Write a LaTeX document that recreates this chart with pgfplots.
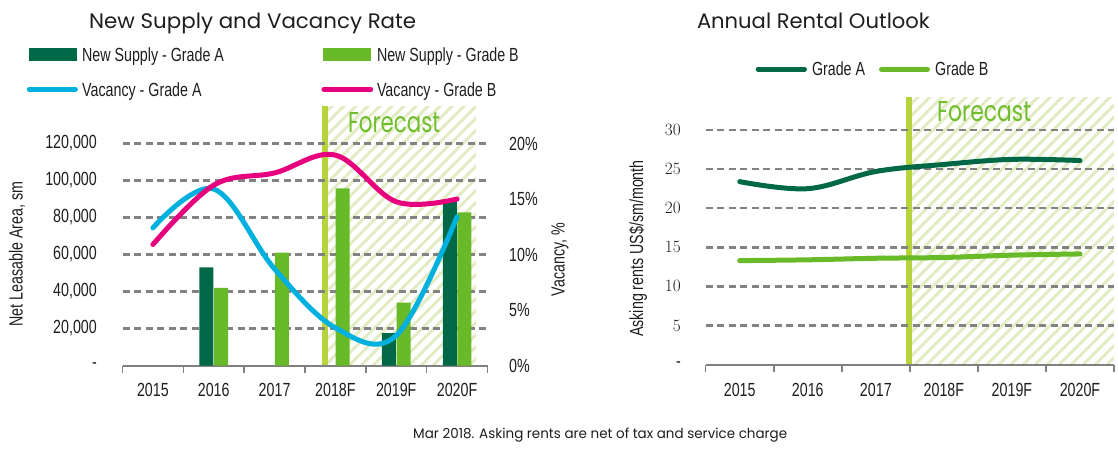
\documentclass[border=0pt]{standalone}
\usepackage{fontspec}
\usepackage{pgfplots}
\pgfplotsset{compat=1.18}
\usetikzlibrary{patterns.meta}
\newfontfamily\tickfont[FakeStretch=0.75]{Liberation Sans}
\newfontfamily\gothic{Poppins}
\newcommand{\tf}{\tickfont\fontsize{19}{22}\selectfont}
\definecolor{dkgreen}{RGB}{0,104,71}
\definecolor{ltgreen}{RGB}{104,186,40}
\definecolor{vacA}{RGB}{0,176,222}
\definecolor{vacB}{RGB}{230,0,126}
\definecolor{limebar}{RGB}{183,211,62}
\definecolor{hatch}{RGB}{226,236,196}
\definecolor{fctext}{RGB}{112,190,45}
\definecolor{gridgray}{RGB}{130,130,130}
\definecolor{axisgray}{RGB}{128,128,128}
\definecolor{txt}{RGB}{30,30,30}
\pgfplotsset{
  geom/.style={scale only axis, anchor=south west, xmin=-0.5, xmax=5.5, ymin=0},
  common/.style={
    geom,
    scaled y ticks=false,
    axis x line*=bottom, axis y line*=left,
    y axis line style={draw=none},
    x axis line style={-, draw=axisgray, line width=2pt},
    xtick={0,1,2,3,4,5}, xticklabels={2015,2016,2017,2018F,2019F,2020F},
    minor xtick={-0.5,0.5,1.5,2.5,3.5,4.5,5.5},
    tick align=outside, major tick length=0pt, minor tick length=7pt,
    minor x tick style={draw=axisgray, line width=1.5pt},
    ytick style={draw=none}, xtick style={draw=none},
    ymajorgrids,
    major grid style={dash pattern=on 7pt off 4.5pt, line width=2.5pt, color=gridgray},
    extra y tick style={grid=none},
    tick label style={font=\tf, text=txt},
    xticklabel style={inner sep=0pt, anchor=north, yshift=-18pt},
    yticklabel style={inner sep=0pt, anchor=east},
    clip=false,
  }
}
\begin{document}
\begin{tikzpicture}
\path[use as bounding box] (0,0) rectangle (1118pt,450pt);
% ---------------- Left chart ----------------
\begin{axis}[geom, hide axis, at={(122.5pt,84.5pt)}, width=365pt, height=259pt, ymax=140000]
\addplot[draw=none, pattern={Lines[angle=45,distance=8.5pt,line width=3pt]}, pattern color=hatch] coordinates {(2.877,140000) (5.31,140000)} \closedcycle;
\addplot[draw=none, fill=limebar] coordinates {(2.778,140000) (2.877,140000)} \closedcycle;
\end{axis}
\begin{axis}[common,
  at={(122.5pt,84.5pt)}, width=365pt, height=259pt,
  ymax=140000,
  ytick={20000,40000,60000,80000,100000,120000},
  yticklabels={{20,000},{40,000},{60,000},{80,000},{100,000},{120,000}},
  extra y ticks={0}, extra y tick labels={-},
  yticklabel style={xshift=-25.5pt},
]
\addplot[ybar, bar width=14pt, bar shift=-7.3pt, fill=dkgreen, draw=none] coordinates {(1,53000) (4,17500) (5,89000)};
\addplot[ybar, bar width=14pt, bar shift=7.3pt, fill=ltgreen, draw=none] coordinates {(1,42000) (2,61000) (3,95800) (4,34000) (5,82800)};
\end{axis}
\begin{axis}[common,
  at={(122.5pt,84.5pt)}, width=365pt, height=259pt,
  ymax=23.3333,
  axis x line=none, axis y line*=right,
  ymajorgrids=false,
  ytick={0,5,10,15,20},
  yticklabels={0\%,5\%,10\%,15\%,20\%},
  yticklabel style={anchor=west, xshift=21.5pt},
]
\addplot[vacA, line width=5pt, line cap=round, smooth, tension=0.6] coordinates {(0,12.4) (1,15.9) (2,8.7) (3,3.4) (4,2.7) (5,13.4)};
\addplot[vacB, line width=5pt, line cap=round, smooth, tension=0.6] coordinates {(0,10.9) (1,16.25) (2,17.35) (3,18.95) (4,14.75) (5,15.0)};
\end{axis}
% ---------------- Right chart ----------------
\begin{axis}[geom, hide axis, at={(705.7pt,85.4pt)}, width=408.3pt, height=267.4pt, ymax=34.2]
\addplot[draw=none, pattern={Lines[angle=45,distance=8.5pt,line width=3pt]}, pattern color=hatch] coordinates {(2.532,34.2) (5.5,34.2)} \closedcycle;
\addplot[draw=none, fill=limebar] coordinates {(2.444,34.2) (2.532,34.2)} \closedcycle;
\end{axis}
\begin{axis}[common,
  at={(705.7pt,85.4pt)}, width=408.3pt, height=267.4pt,
  ymax=34.2,
  ytick={5,10,15,20,25,30},
  extra y ticks={0}, extra y tick labels={-},
  yticklabel style={xshift=-24.7pt},
]
\addplot[dkgreen, line width=5pt, line cap=round, smooth, tension=0.6] coordinates {(0,23.4) (1,22.5) (2,24.7) (3,25.6) (4,26.25) (5,26.1)};
\addplot[ltgreen, line width=5pt, line cap=round, smooth, tension=0.6] coordinates {(0,13.3) (1,13.4) (2,13.6) (3,13.7) (4,14.0) (5,14.15)};
\end{axis}
% ---------------- Texts ----------------
\node[anchor=base west, inner sep=0pt, text=txt] at (89pt,421.7pt) {\resizebox{327pt}{15.5pt}{\gothic New Supply and Vacancy Rate}};
\node[anchor=base west, inner sep=0pt, text=txt] at (696.8pt,421.7pt) {\resizebox{232.8pt}{15.5pt}{\gothic Annual Rental Outlook}};
\node[anchor=base west, inner sep=0pt, text=fctext] at (348pt,317pt) {\resizebox{92pt}{20pt}{\gothic Forecast}};
\node[anchor=base west, inner sep=0pt, text=fctext] at (937pt,328.3pt) {\resizebox{94pt}{20pt}{\gothic Forecast}};
\node[anchor=base west, inner sep=0pt, text=txt] at (413pt,12pt) {\resizebox{374pt}{10.5pt}{\gothic Mar 2018. Asking rents are net of tax and service charge}};
% axis titles
\node[rotate=90, inner sep=0pt, text=txt, font=\tf] at (17pt,196pt) {Net Leasable Area, sm};
\node[rotate=90, inner sep=0pt, text=txt, font=\tf] at (560pt,190.5pt) {Vacancy, \%};
\node[rotate=90, inner sep=0pt, text=txt, font=\tf] at (638pt,201.5pt) {Asking rents US\$/sm/month};
% legends (left)
\fill[dkgreen] (28.6pt,389.3pt) rectangle (76.8pt,401.7pt);
\node[anchor=base west, inner sep=0pt, text=txt, font=\tf] at (82pt,388.3pt) {New Supply - Grade A};
\fill[ltgreen] (323pt,389.3pt) rectangle (371.4pt,401.7pt);
\node[anchor=base west, inner sep=0pt, text=txt, font=\tf] at (376.8pt,388.3pt) {New Supply - Grade B};
\draw[vacA, line width=5pt, line cap=round] (29.3pt,360.7pt) -- (75.4pt,360.7pt);
\node[anchor=base west, inner sep=0pt, text=txt, font=\tf] at (82pt,353.5pt) {Vacancy - Grade A};
\draw[vacB, line width=5pt, line cap=round] (323.9pt,360.7pt) -- (370.7pt,360.7pt);
\node[anchor=base west, inner sep=0pt, text=txt, font=\tf] at (376.8pt,353.5pt) {Vacancy - Grade B};
% legend (right)
\draw[dkgreen, line width=5pt, line cap=round] (758.2pt,380.7pt) -- (804.5pt,380.7pt);
\node[anchor=base west, inner sep=0pt, text=txt, font=\tf] at (811.8pt,374pt) {Grade A};
\draw[ltgreen, line width=5pt, line cap=round] (881.5pt,380.7pt) -- (927.5pt,380.7pt);
\node[anchor=base west, inner sep=0pt, text=txt, font=\tf] at (935pt,374pt) {Grade B};
\end{tikzpicture}
\end{document}
